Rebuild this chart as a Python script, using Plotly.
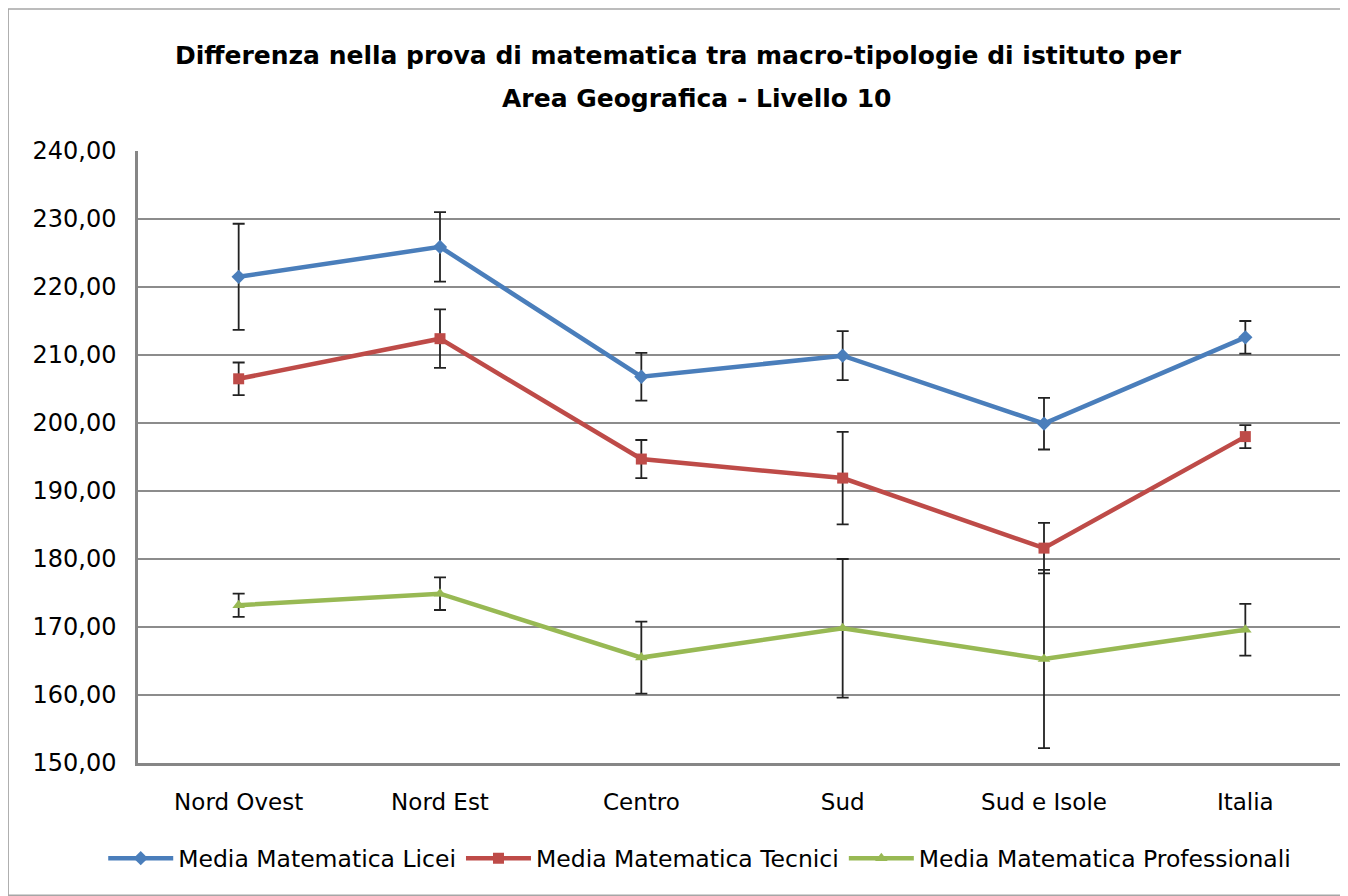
import plotly.graph_objects as go

categories = ["Nord Ovest", "Nord Est", "Centro", "Sud", "Sud e Isole", "Italia"]

licei = [221.5, 225.9, 206.8, 209.9, 199.9, 212.6]
licei_err = [7.8, 5.1, 3.5, 3.6, 3.8, 2.4]

tecnici = [206.5, 212.4, 194.7, 191.9, 181.6, 198.0]
tecnici_err = [2.4, 4.3, 2.8, 6.8, 3.7, 1.7]

professionali = [173.2, 174.9, 165.5, 169.8, 165.3, 169.6]
professionali_err = [1.7, 2.4, 5.3, 10.2, 13.1, 3.8]

series_names = ["Media Matematica Licei", "Media Matematica Tecnici", "Media Matematica Professionali"]
colors = ["#4a7ebb", "#be4b48", "#98b954"]
symbols = ["diamond", "square", "triangle-up"]

title_line1 = "Differenza nella prova di matematica tra macro-tipologie di istituto per"
title_line2 = "Area Geografica - Livello 10"

fig = go.Figure()
for name, vals, errs, col, sym in zip(series_names, [licei, tecnici, professionali],
                                      [licei_err, tecnici_err, professionali_err], colors, symbols):
    fig.add_trace(go.Scatter(
        x=categories, y=vals, name=name, mode="lines+markers",
        line=dict(color=col, width=4.5),
        marker=dict(symbol=sym, size=11, color=col),
        error_y=dict(type="data", array=errs, visible=True, color="#222222", thickness=1.8, width=6),
    ))

font_family = "DejaVu Sans, Verdana, sans-serif"

fig.update_layout(
    width=1340, height=888,
    paper_bgcolor="white", plot_bgcolor="white",
    margin=dict(l=130, r=2, t=143, b=133),
    separators=",.",
    font=dict(family=font_family, size=22, color="#000000"),
    title=dict(
        text="<b>" + title_line1 + "</b>",
        x=0.5, xanchor="center", xref="container", y=1 - 47 / 888, yanchor="middle", yref="container",
        font=dict(family=font_family, size=25, color="#000000"),
    ),
    annotations=[dict(text="<b>" + title_line2 + "</b>", xref="paper", yref="paper",
                      x=(693 - 138) / 1200, y=(755 - 90) / 612, xanchor="center", yanchor="middle",
                      showarrow=False, font=dict(family=font_family, size=25, color="#000000"))],
    showlegend=True,
    legend=dict(orientation="h", x=0.465, xanchor="center", y=-0.12, yanchor="top",
                font=dict(family=font_family, size=23.5), traceorder="normal", itemwidth=65),
    xaxis=dict(type="category", showgrid=False, showline=True, linecolor="#868686", linewidth=3,
               ticks="", tickfont=dict(size=23), range=[-0.5, 5.5], ticklabelstandoff=16),
    yaxis=dict(range=[150, 240], dtick=10, tickformat=".2f", showgrid=True, gridcolor="#8c8c8c",
               gridwidth=1.5, showline=True, linecolor="#868686", linewidth=2.5, ticks="",
               tickfont=dict(size=24), zeroline=False, ticklabelstandoff=14),
    shapes=[dict(type="rect", xref="paper", yref="paper", x0=-0.1075, x1=1.006, y0=-0.216, y1=1.232,
                 line=dict(color="#a6a6a6", width=1.5), fillcolor="rgba(0,0,0,0)", layer="below")],
)

fig.write_html("out.html")
